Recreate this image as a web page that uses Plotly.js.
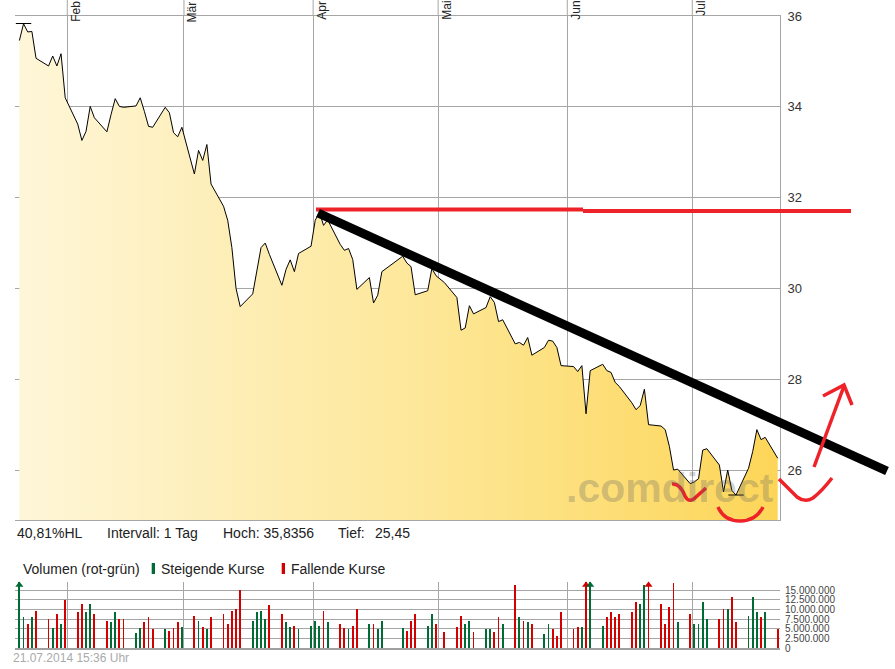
<!DOCTYPE html>
<html><head><meta charset="utf-8">
<script src="https://cdn.plot.ly/plotly-3.0.1.min.js"></script>
<style>html,body{margin:0;padding:0;background:#fff;}#chart{width:895px;height:669px;}</style>
</head><body><div id="chart"></div>
<script>
// ---------- DATA ----------
const daysJan = [20,21,22,23,24,27,28,29,30,31];
const daysFeb = [3,4,5,6,7,10,11,12,13,14,17,18,19,20,21,24,25,26,27,28];
const daysMar = [3,4,5,6,7,10,11,12,13,14,17,18,19,20,21,24,25,26,27,28,31];
const daysApr = [1,2,3,4,7,8,9,10,11,14,15,16,17,22,23,24,25,28,29,30];
const daysMay = [2,5,6,7,8,9,12,13,14,15,16,19,20,21,22,23,26,27,28,29,30];
const daysJun = [2,3,4,5,6,9,10,11,12,13,16,17,18,19,20,23,24,25,26,27,30];
const daysJul = [1,2,3,4,7,8,9,10,11,14,15,16,17,18,21];

const closeJan = [35.46,35.83,35.65,35.66,35.07,34.90,35.12,34.90,35.17,34.20];
const closeFeb = [33.62,33.26,33.46,34.01,33.76,33.45,33.83,34.18,34.01,33.99,34.02,34.20,33.90,33.57,33.55,33.99,33.87,33.43,33.34,33.55];
const closeMar = [32.52,33.04,32.82,33.17,32.30,31.81,31.50,30.90,30.00,29.60,29.88,30.38,30.90,31.00,30.75,30.07,30.42,30.63,30.37,30.77,30.93];
const closeApr = [31.50,31.68,31.39,31.51,30.97,30.84,30.88,30.64,29.98,30.24,29.68,29.85,30.37,30.71,30.56,30.48,29.86,29.95,30.44,30.28];
const closeMay = [30.13,29.80,29.08,29.13,29.62,29.44,29.58,29.82,29.69,29.27,29.31,28.78,28.81,28.75,28.92,28.53,28.70,28.86,28.84,28.70,28.30];
const closeJun = [28.28,28.17,28.30,27.24,28.19,28.33,28.19,28.15,27.93,27.84,27.48,27.33,27.42,27.78,27.00,26.97,26.89,26.52,26.00,26.02,25.70];
const closeJul = [25.74,25.81,26.44,26.47,26.11,25.52,26.00,25.55,25.45,26.04,26.41,26.89,26.67,26.72,26.26];

// volume in millions of shares
const volJan = [19,8.1,6.3,8.1,9.7,7.4,5.3,8.9,6.3,12.3];
const volFeb = [9.4,11.5,9.4,11.3,8.9,7.1,6.6,9.2,7.6,7.4,4.0,5.3,6.8,7.9,4.8,4.8,4.5,5.3,6.8,5.5];
const volMar = [8.4,7.1,5.5,5.0,7.9,8.7,6.3,9.7,10.0,14.9,7.1,9.4,9.7,7.6,11.0,8.9,6.6,5.5,5.8,4.8,5.8];
const volApr = [7.1,5.8,9.7,6.8,6.1,5.3,4.8,5.8,10.0,6.3,6.3,5.0,7.1,5.3,4.5,7.1,8.7,5.8,8.9,6.1];
const volMay = [4.2,5.5,8.4,6.1,7.1,4.2,4.8,4.8,4.2,7.9,6.3,16.2,7.9,7.1,6.6,6.3,3.5,6.3,5.0,3.2,9.4];
const volJun = [5.0,5.5,5.5,24,20,5.8,8.1,9.4,7.9,8.9,9.4,12.0,11.5,16.2,22,11.3,6.3,10.5,16.9,6.8,8.9];
const volJul = [6.1,6.3,11.8,7.4,7.4,10.2,10.2,13.3,6.6,8.4,13.3,9.4,7.9,9.4,5.0];

// u = steigend, d = fallend
const dirJan = ['u','u','d','u','d','d','u','d','u','d'];
const dirFeb = ['d','d','u','u','d','d','u','u','d','d','u','u','d','d','d','u','d','d','d','u'];
const dirMar = ['d','u','d','u','d','d','d','d','d','d','u','u','u','u','d','d','u','u','d','u','u'];
const dirApr = ['u','u','d','u','d','d','u','d','d','u','d','u','u','u','d','d','d','u','u','d'];
const dirMay = ['d','d','d','u','u','d','u','u','d','d','u','d','u','d','u','d','u','u','d','d','d'];
const dirJun = ['d','d','u','d','u','u','d','d','d','d','d','d','u','u','d','d','d','d','d','u','d'];
const dirJul = ['u','u','u','u','d','d','u','d','d','u','u','u','d','u','d'];

const monthStarts = ['2014-02-01','2014-03-01','2014-04-01','2014-05-01','2014-06-01','2014-07-01'];
const monthLabels = ['Feb','Mär','Apr','Mai','Jun','Jul'];
const priceTicks = [26,28,30,32,34,36];
const volumeTicks = [0,2.5,5,7.5,10,12.5,15];
const volumeTickLabels = ['0','2.500.000','5.000.000','7.500.000','10.000.000','12.500.000','15.000.000'];
const extremeDates = ['2014-01-21','2014-07-11'];
const extremeValues = [35.8356, 25.45];
const infoTexts = ['40,81%HL','Intervall: 1 Tag','Hoch: 35,8356','Tief:','25,45'];
const legendTexts = ['Volumen (rot-grün)','Steigende Kurse','Fallende Kurse'];

// ---------- BUILD ----------
function mk(month, days){ return days.map(d => '2014-' + month + '-' + String(d).padStart(2,'0') + ' 12:00'); }
const dates = [].concat(mk('01',daysJan),mk('02',daysFeb),mk('03',daysMar),mk('04',daysApr),mk('05',daysMay),mk('06',daysJun),mk('07',daysJul));
const closes = [].concat(closeJan,closeFeb,closeMar,closeApr,closeMay,closeJun,closeJul);
const vols = [].concat(volJan,volFeb,volMar,volApr,volMay,volJun,volJul);
const dirs = [].concat(dirJan,dirFeb,dirMar,dirApr,dirMay,dirJun,dirJul);

const GREEN = '#006b35', RED = '#d40000';
const GRID = '#a6a6a6';
const VOLMAX = 17.07;
const XR = ['2014-01-19 10:48','2014-07-22 01:12'];
const FONT = 'Liberation Sans, Arial, sans-serif';

// pixel -> paper helpers for layout decoration
const PL = 15, PR = 780, PT = 16, PB = 648;
const px = x => (x - PL) / (PR - PL);
const py = y => (PB - y) / (PB - PT);
const pt = (x, y) => px(x).toFixed(5) + ',' + py(y).toFixed(5);

const priceTrace = {
  type:'scatter', mode:'lines', x:dates, y:closes, xaxis:'x', yaxis:'y',
  line:{color:'#000', width:1}, fill:'tozeroy',
  fillgradient:{type:'horizontal', colorscale:[[0,'#fef6d8'],[0.5,'#fde89c'],[1,'#fdd658']]},
  hoverinfo:'skip', showlegend:false
};
const extremeTrace = {
  type:'scatter', mode:'markers', x:extremeDates.map(d => d + ' 12:00'), y:extremeValues,
  xaxis:'x', yaxis:'y', marker:{symbol:'line-ew', size:11, line:{width:1, color:'#000'}},
  hoverinfo:'skip', showlegend:false, cliponaxis:false
};
const volTrace = {
  type:'bar', x:dates, y:vols, xaxis:'x2', yaxis:'y2',
  width:0.45*86400000,
  marker:{color:dirs.map(d => d === 'u' ? GREEN : RED), line:{width:0}},
  hoverinfo:'skip', showlegend:false
};
const clipIdx = vols.map((v,i) => v > VOLMAX ? i : -1).filter(i => i >= 0);
const clipTrace = {
  type:'scatter', mode:'markers', x:clipIdx.map(i => dates[i]), y:clipIdx.map(() => VOLMAX*0.955),
  xaxis:'x2', yaxis:'y2', cliponaxis:false,
  marker:{symbol:'triangle-up', size:7, color:clipIdx.map(i => dirs[i] === 'u' ? GREEN : RED)},
  hoverinfo:'skip', showlegend:false
};

const annotations = [];
monthStarts.forEach((m,i) => annotations.push({
  xref:'x', yref:'paper', x:m, y:py(-1), xanchor:'left', yanchor:'top', xshift:-1,
  text:monthLabels[i], textangle:-90, showarrow:false, font:{family:FONT, size:12, color:'#222'}
}));
const infoX = [16,106,222,337,374];
infoTexts.forEach((t,i) => annotations.push({
  xref:'paper', yref:'paper', x:px(infoX[i]), y:py(532.5), xanchor:'left', yanchor:'middle', xshift:-1,
  text:t, showarrow:false, font:{family:FONT, size:14, color:'#222'}
}));
const legendX = [21.5,159.5,289.5];
legendTexts.forEach((t,i) => annotations.push({
  xref:'paper', yref:'paper', x:px(legendX[i]), y:py(569), xanchor:'left', yanchor:'middle', xshift:-1,
  text:t, showarrow:false, font:{family:FONT, size:14, color:'#222'}
}));
annotations.push({
  xref:'paper', yref:'paper', x:px(12), y:py(658), xanchor:'left', yanchor:'middle', xshift:-1,
  text:'21.07.2014 15:36 Uhr', showarrow:false, font:{family:FONT, size:12, color:'#aaaaaa'}
});
annotations.push({
  xref:'paper', yref:'paper', x:px(776), y:py(488), xanchor:'right', yanchor:'middle',
  text:'<b>.comdirect</b>', showarrow:false,
  font:{family:FONT, size:41, color:'rgba(100,100,100,0.30)'}
});

const RL = '#ee2229';
const shapes = [
  {type:'rect', xref:'paper', yref:'paper', x0:px(151.7), x1:px(155), y0:py(574), y1:py(563), fillcolor:GREEN, line:{width:0}},
  {type:'rect', xref:'paper', yref:'paper', x0:px(281.7), x1:px(285), y0:py(574), y1:py(563), fillcolor:RED, line:{width:0}},
  // hand drawn overlays
  {type:'line', xref:'paper', yref:'paper', x0:px(316), y0:py(209.5), x1:px(583), y1:py(209.5), line:{color:RL, width:4}},
  {type:'line', xref:'paper', yref:'paper', x0:px(583), y0:py(211), x1:px(851), y1:py(211), line:{color:RL, width:4}},
  {type:'line', xref:'paper', yref:'paper', x0:px(318), y0:py(213), x1:px(887), y1:py(471), line:{color:'#000', width:9}},
  {type:'path', xref:'paper', yref:'paper', path:'M'+pt(814,467)+' L'+pt(844,386), line:{color:RL, width:3.5}},
  {type:'path', xref:'paper', yref:'paper', path:'M'+pt(823,396)+' L'+pt(844,385)+' L'+pt(852,405), line:{color:RL, width:3.5}},
  {type:'path', xref:'paper', yref:'paper', path:'M'+pt(672,484)+' Q'+pt(680,483)+' '+pt(685,496)+' Q'+pt(689,504)+' '+pt(696,497)+' L'+pt(706,488), line:{color:RL, width:3.5}},
  {type:'path', xref:'paper', yref:'paper', path:'M'+pt(718,507)+' Q'+pt(724,521)+' '+pt(740,521)+' Q'+pt(756,521)+' '+pt(763,507), line:{color:RL, width:3.5}},
  {type:'path', xref:'paper', yref:'paper', path:'M'+pt(779,479)+' L'+pt(797,497)+' Q'+pt(805,503)+' '+pt(813,498)+' Q'+pt(822,491)+' '+pt(832,478), line:{color:RL, width:3.5}}
];
// month gridlines continue above the price frame up to the page top
monthStarts.forEach(m => shapes.push({type:'line', xref:'x', yref:'paper', x0:m, x1:m, y0:1, y1:py(0), line:{color:GRID, width:1}, layer:'below'}));

const layout = {
  width:895, height:669, margin:{l:15, r:115, t:16, b:21},
  paper_bgcolor:'#fff', plot_bgcolor:'rgba(0,0,0,0)',
  font:{family:FONT, size:13, color:'#333'},
  showlegend:false, bargap:0,
  xaxis:{type:'date', domain:[0,1], anchor:'y', range:XR, tickvals:monthStarts, showticklabels:false,
    showgrid:true, gridcolor:GRID, gridwidth:1, showline:true, mirror:true, linecolor:GRID, linewidth:1, zeroline:false, ticks:''},
  yaxis:{domain:[128/632,1], anchor:'x', range:[24.9,36.001], side:'right', tickvals:priceTicks,
    showgrid:true, gridcolor:GRID, showline:true, linecolor:GRID, linewidth:1, zeroline:false, ticks:'',
    ticklabelstandoff:4, tickfont:{family:FONT, size:13, color:'#333'}},
  xaxis2:{type:'date', domain:[0,1], anchor:'y2', range:XR, tickvals:monthStarts, showticklabels:false,
    showgrid:true, gridcolor:GRID, showline:true, linecolor:'#a0a0a0', linewidth:2, zeroline:false, ticks:''},
  yaxis2:{domain:[0,66/632], anchor:'x2', range:[0,VOLMAX], side:'right', tickvals:volumeTicks, ticktext:volumeTickLabels,
    showgrid:true, gridcolor:GRID, showline:false, zeroline:false, ticks:'', ticklabelstandoff:4,
    tickfont:{family:FONT, size:10, color:'#444'}},
  annotations:annotations, shapes:shapes
};

Plotly.newPlot('chart', [priceTrace, extremeTrace, volTrace, clipTrace], layout, {staticPlot:true, displayModeBar:false});
</script></body></html>
